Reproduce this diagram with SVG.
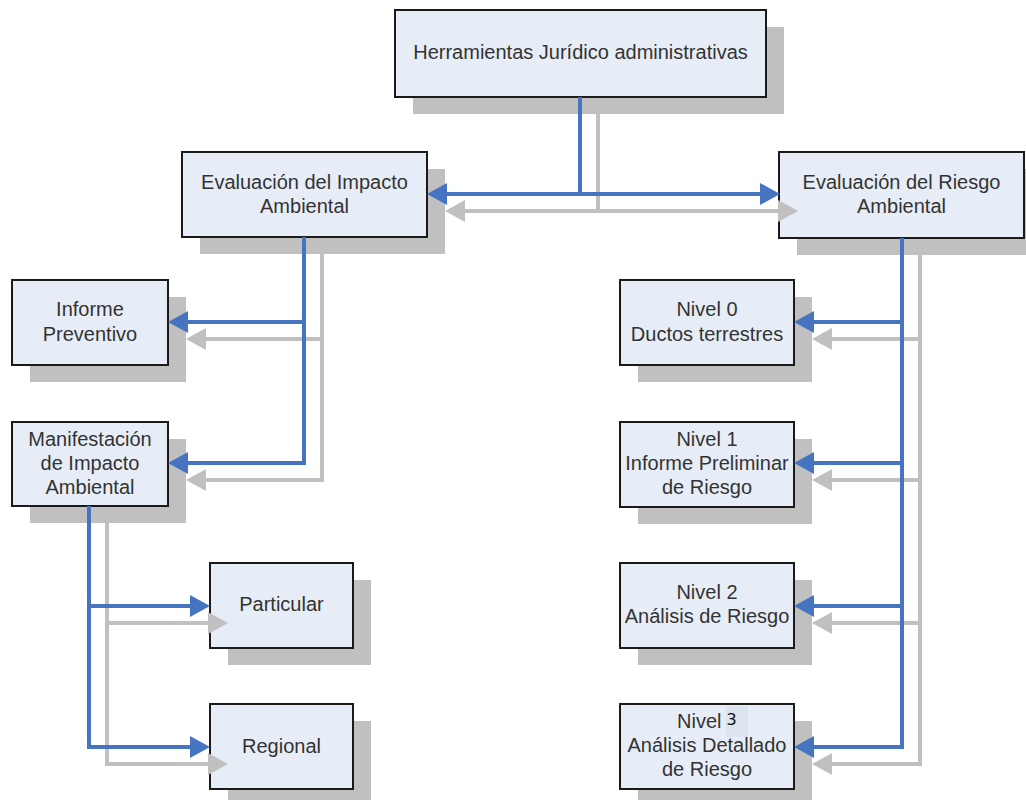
<svg xmlns="http://www.w3.org/2000/svg" width="1026" height="800" viewBox="0 0 1026 800">
<style>
.sh{fill:#c0c0c0}
.bx{fill:#e7edf7;stroke:#1a1a1a;stroke-width:2}
.t{font-family:"Liberation Sans",Arial,sans-serif;font-size:20px;fill:#333;text-anchor:middle}
.b{fill:none;stroke:#4674c1;stroke-width:4;marker-end:url(#ab)}
.bn{fill:none;stroke:#4674c1;stroke-width:4}
.g{fill:none;stroke:#c0c0c0;stroke-width:4;marker-end:url(#ag)}
.gn{fill:none;stroke:#c0c0c0;stroke-width:4}
</style>
<defs>
<marker id="ab" markerUnits="userSpaceOnUse" markerWidth="20" markerHeight="22" refX="10" refY="11" orient="auto-start-reverse"><path d="M0,0 L20,11 L0,22 z" fill="#4674c1"/></marker>
<marker id="ag" markerUnits="userSpaceOnUse" markerWidth="20" markerHeight="22" refX="10" refY="11" orient="auto-start-reverse"><path d="M0,0 L20,11 L0,22 z" fill="#c0c0c0"/></marker>
</defs>
<g id="shadows">
<rect class="sh" x="413" y="27" width="371" height="87"/>
<rect class="sh" x="200" y="169" width="245" height="85"/>
<rect class="sh" x="797" y="169" width="245" height="86"/>
<rect class="sh" x="30" y="297" width="156" height="85"/>
<rect class="sh" x="30" y="439" width="156" height="84"/>
<rect class="sh" x="228" y="580" width="143" height="85"/>
<rect class="sh" x="228" y="721" width="143" height="85"/>
<rect class="sh" x="638" y="297" width="174" height="85"/>
<rect class="sh" x="638" y="439" width="174" height="85"/>
<rect class="sh" x="638" y="580" width="174" height="85"/>
<rect class="sh" x="638" y="721" width="174" height="85"/>
</g>
<g id="n-top"><rect class="bx" x="395" y="10" width="371" height="87"/><text class="t" x="580.5" y="59">Herramientas Jurídico administrativas</text></g>
<g id="n-eia"><rect class="bx" x="182" y="152" width="245" height="85"/><text class="t" x="304.5" y="189">Evaluación del Impacto</text><text class="t" x="304.5" y="213">Ambiental</text></g>
<g id="n-era"><rect class="bx" x="779" y="152" width="245" height="86"/><text class="t" x="901.5" y="189">Evaluación del Riesgo</text><text class="t" x="901.5" y="213">Ambiental</text></g>
<g id="n-ip"><rect class="bx" x="12" y="280" width="156" height="85"/><text class="t" x="90" y="316">Informe</text><text class="t" x="90" y="341">Preventivo</text></g>
<g id="n-mia"><rect class="bx" x="12" y="422" width="156" height="84"/><text class="t" x="90" y="446">Manifestación</text><text class="t" x="90" y="470">de Impacto</text><text class="t" x="90" y="494">Ambiental</text></g>
<g id="n-part"><rect class="bx" x="210" y="563" width="143" height="85"/><text class="t" x="281.5" y="611">Particular</text></g>
<g id="n-reg"><rect class="bx" x="210" y="704" width="143" height="85"/><text class="t" x="281.5" y="753">Regional</text></g>
<g id="n-n0"><rect class="bx" x="620" y="280" width="174" height="85"/><text class="t" x="707" y="316">Nivel 0</text><text class="t" x="707" y="341">Ductos terrestres</text></g>
<g id="n-n1"><rect class="bx" x="620" y="422" width="174" height="85"/><text class="t" x="707" y="446">Nivel 1</text><text class="t" x="707" y="470">Informe Preliminar</text><text class="t" x="707" y="494">de Riesgo</text></g>
<g id="n-n2"><rect class="bx" x="620" y="563" width="174" height="85"/><text class="t" x="707" y="599">Nivel 2</text><text class="t" x="707" y="623">Análisis de Riesgo</text></g>
<g id="n-n3"><rect class="bx" x="620" y="704" width="174" height="85"/><rect x="726" y="706" width="22" height="31" fill="#dbe4ef"/><text class="t" x="677" y="728" style="text-anchor:start">Nivel</text><text x="726.5" y="725" style="font-family:'DejaVu Sans',sans-serif;font-size:16px;fill:#111">3</text><text class="t" x="707" y="752">Análisis Detallado</text><text class="t" x="707" y="776">de Riesgo</text></g>
<g id="connectors-shadow">
<path class="gn" d="M598,114 V211"/>
<path class="g" d="M455,211 H788" style="marker-start:url(#ag)"/>
<path class="gn" d="M322,254 V339"/>
<path class="g" d="M322,339 H196"/>
<path class="g" d="M322,337 V480 H196"/>
<path class="gn" d="M107,523 V623"/>
<path class="g" d="M107,623 H218"/>
<path class="g" d="M107,621 V764 H218"/>
<path class="gn" d="M920,255 V764"/>
<path class="g" d="M920,339 H822"/>
<path class="g" d="M920,480 H822"/>
<path class="g" d="M920,623 H822"/>
<path class="g" d="M920,762 V764 H822"/>
</g>
<g id="connectors">
<path class="bn" d="M580,97 V194"/>
<path class="b" d="M437,194 H770" style="marker-start:url(#ab)"/>
<path class="bn" d="M304,237 V322"/>
<path class="b" d="M304,322 H178"/>
<path class="b" d="M304,320 V463 H178"/>
<path class="bn" d="M89,506 V606"/>
<path class="b" d="M89,606 H200"/>
<path class="b" d="M89,604 V747 H200"/>
<path class="bn" d="M902,238 V747"/>
<path class="b" d="M902,322 H804"/>
<path class="b" d="M902,463 H804"/>
<path class="b" d="M902,606 H804"/>
<path class="b" d="M902,745 V747 H804"/>
</g>
</svg>
